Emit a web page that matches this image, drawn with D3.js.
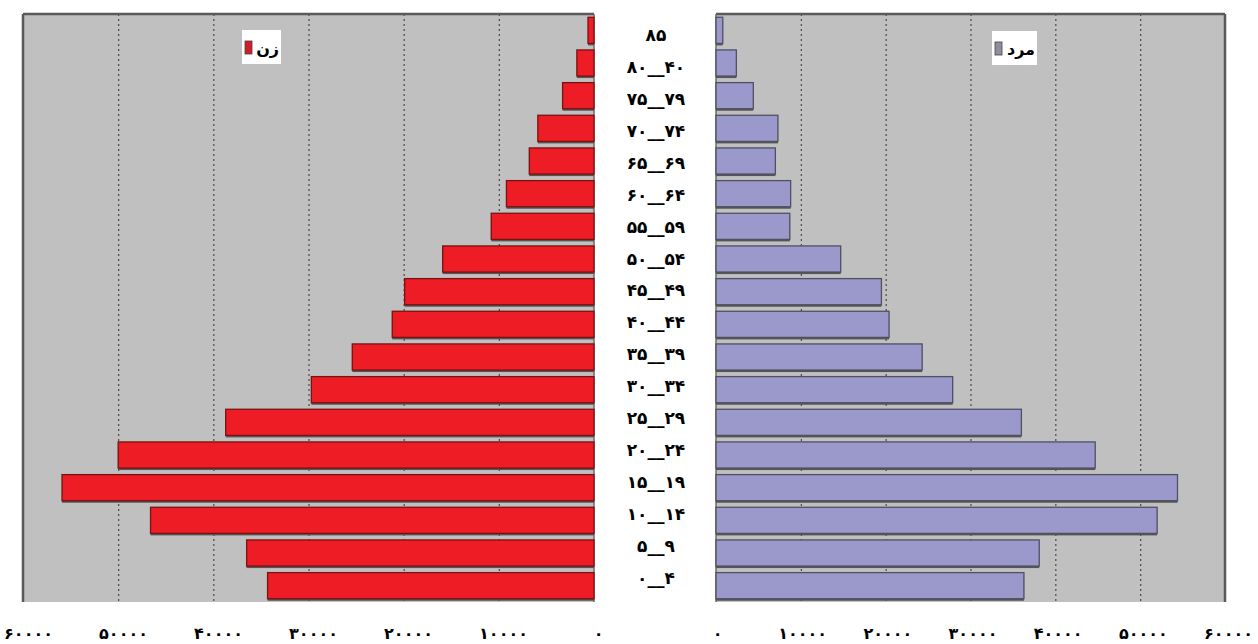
<!DOCTYPE html>
<html lang="fa">
<head>
<meta charset="UTF-8">
<title>هرم سنی</title>
<script src="https://d3js.org/d3.v7.min.js"></script>
<style>
  body { margin: 0; background: #fff; }
  svg text { font-family: "DejaVu Sans", sans-serif; font-weight: bold; }
  .grid line { stroke: #4a4a4a; stroke-dasharray: 2,3; stroke-width: 1.2; }
  .grid .domain { display: none; }
  .tick-labels .domain, .tick-labels line { display: none; }
</style>
</head>
<body>
<script>
// age groups, top to bottom (as printed in the picture)
const ageGroups = ["۸۵", "۸۰__۴۰", "۷۵__۷۹", "۷۰__۷۴", "۶۵__۶۹", "۶۰__۶۴", "۵۵__۵۹", "۵۰__۵۴",
  "۴۵__۴۹", "۴۰__۴۴", "۳۵__۳۹", "۳۰__۳۴", "۲۵__۲۹", "۲۰__۲۴", "۱۵__۱۹", "۱۰__۱۴", "۵__۹", "۰__۴"];
// women (left), men (right), same order
const women = [630, 1800, 3300, 5900, 6800, 9200, 10800, 15900, 19900, 21200, 25400, 29700,
  38700, 50000, 55900, 46600, 36500, 34300];
const men = [800, 2400, 4400, 7300, 7000, 8800, 8700, 14700, 19500, 20400, 24300, 27900,
  36000, 44700, 54400, 52000, 38100, 36300];
const tickValues = [0, 10000, 20000, 30000, 40000, 50000, 60000];
const legendWomen = "زن";
const legendMen = "مرد";

const W = 1258, H = 644;
const plotTop = 14, plotBottom = 602;

const toFa = n => String(n).replace(/\d/g, d => "۰۱۲۳۴۵۶۷۸۹"[+d]);

const svg = d3.select("body").append("svg").attr("width", W).attr("height", H);

const y = d3.scaleBand().domain(ageGroups).range([plotTop, plotBottom]).paddingInner(0.2).paddingOuter(0.1);
const yLab = d3.scaleBand().domain(ageGroups).range([19, 594]).paddingInner(0.2).paddingOuter(0.1);

const xL = d3.scaleLinear().domain([0, 60000]).range([594, 23]);
const xR = d3.scaleLinear().domain([0, 60000]).range([716, 1225]);
// the printed tick numbers sit a little apart from the plot frame
const xLabL = d3.scaleLinear().domain([0, 60000]).range([598, 28]);
const xLabR = d3.scaleLinear().domain([0, 60000]).range([717, 1228]);

function panel(x, xLab, data, fill, stroke, side) {
  const g = svg.append("g");
  const [r0, r1] = x.range();
  const x0 = Math.min(r0, r1), x1 = Math.max(r0, r1);
  g.append("rect").attr("x", x0).attr("y", plotTop).attr("width", x1 - x0).attr("height", plotBottom - plotTop)
    .attr("fill", "#c0c0c0");

  // dashed gridlines
  g.append("g").attr("class", "grid")
    .attr("transform", `translate(0,${plotTop})`)
    .call(d3.axisBottom(x).tickValues(tickValues.slice(1, 6)).tickSize(plotBottom - plotTop).tickFormat(""));

  // frame: outer side and top
  const outer = side === "left" ? x0 : x1;
  g.append("line").attr("x1", outer).attr("x2", outer).attr("y1", plotTop).attr("y2", plotBottom)
    .attr("stroke", "#5a5a5a").attr("stroke-width", 2.5);
  g.append("line").attr("x1", x0).attr("x2", x1).attr("y1", plotTop).attr("y2", plotTop)
    .attr("stroke", "#5a5a5a").attr("stroke-width", 2.5);
  const inner = side === "left" ? x1 : x0;
  g.append("line").attr("x1", inner).attr("x2", inner).attr("y1", plotTop).attr("y2", plotBottom)
    .attr("stroke", "#6a6a6a").attr("stroke-width", 1.5);

  // bar shadows
  g.selectAll(".shadow").data(data).join("rect")
    .attr("x", d => Math.min(x(0), x(d)))
    .attr("y", (d, i) => y(ageGroups[i]) + 2)
    .attr("width", d => Math.abs(x(d) - x(0)))
    .attr("height", y.bandwidth())
    .attr("fill", "#555");

  g.selectAll(".bar").data(data).join("rect")
    .attr("x", d => Math.min(x(0), x(d)))
    .attr("y", (d, i) => y(ageGroups[i]))
    .attr("width", d => Math.abs(x(d) - x(0)))
    .attr("height", y.bandwidth())
    .attr("fill", fill).attr("stroke", stroke).attr("stroke-width", 1.3);

  // tick numbers under the panel
  svg.append("g").attr("class", "tick-labels")
    .attr("transform", `translate(0,${plotBottom + 23})`)
    .call(d3.axisBottom(xLab).tickValues(tickValues).tickSize(0).tickFormat(toFa))
    .selectAll("text").attr("font-size", 16).attr("fill", "#000");
}

panel(xL, xLabL, women, "#ee1c24", "#7a1212", "left");
panel(xR, xLabR, men, "#9b98cc", "#505060", "right");

// age labels in the middle
svg.append("g").selectAll("text").data(ageGroups).join("text")
  .attr("x", 656)
  .attr("y", d => yLab(d) + yLab.bandwidth() / 2)
  .attr("dy", "0.35em")
  .attr("text-anchor", "middle")
  .attr("direction", "ltr")
  .attr("font-size", 17)
  .text(d => d);

// legends
function legend(x, yy, w, color, label) {
  const g = svg.append("g");
  g.append("rect").attr("x", x).attr("y", yy).attr("width", w).attr("height", 34).attr("fill", "#fff");
  g.append("rect").attr("x", x + 3).attr("y", yy + 11).attr("width", 7).attr("height", 13)
    .attr("fill", color).attr("stroke", "#444").attr("stroke-width", 0.8);
  g.append("text").attr("x", x + w - 2).attr("y", yy + 18).attr("dy", "0.35em")
    .attr("text-anchor", "end").attr("font-size", 16).attr("fill", "#000").text(label);
}
legend(242, 30, 39, "#d21c2a", legendWomen);
legend(992, 31, 45, "#8e8e9e", legendMen);
</script>
</body>
</html>
